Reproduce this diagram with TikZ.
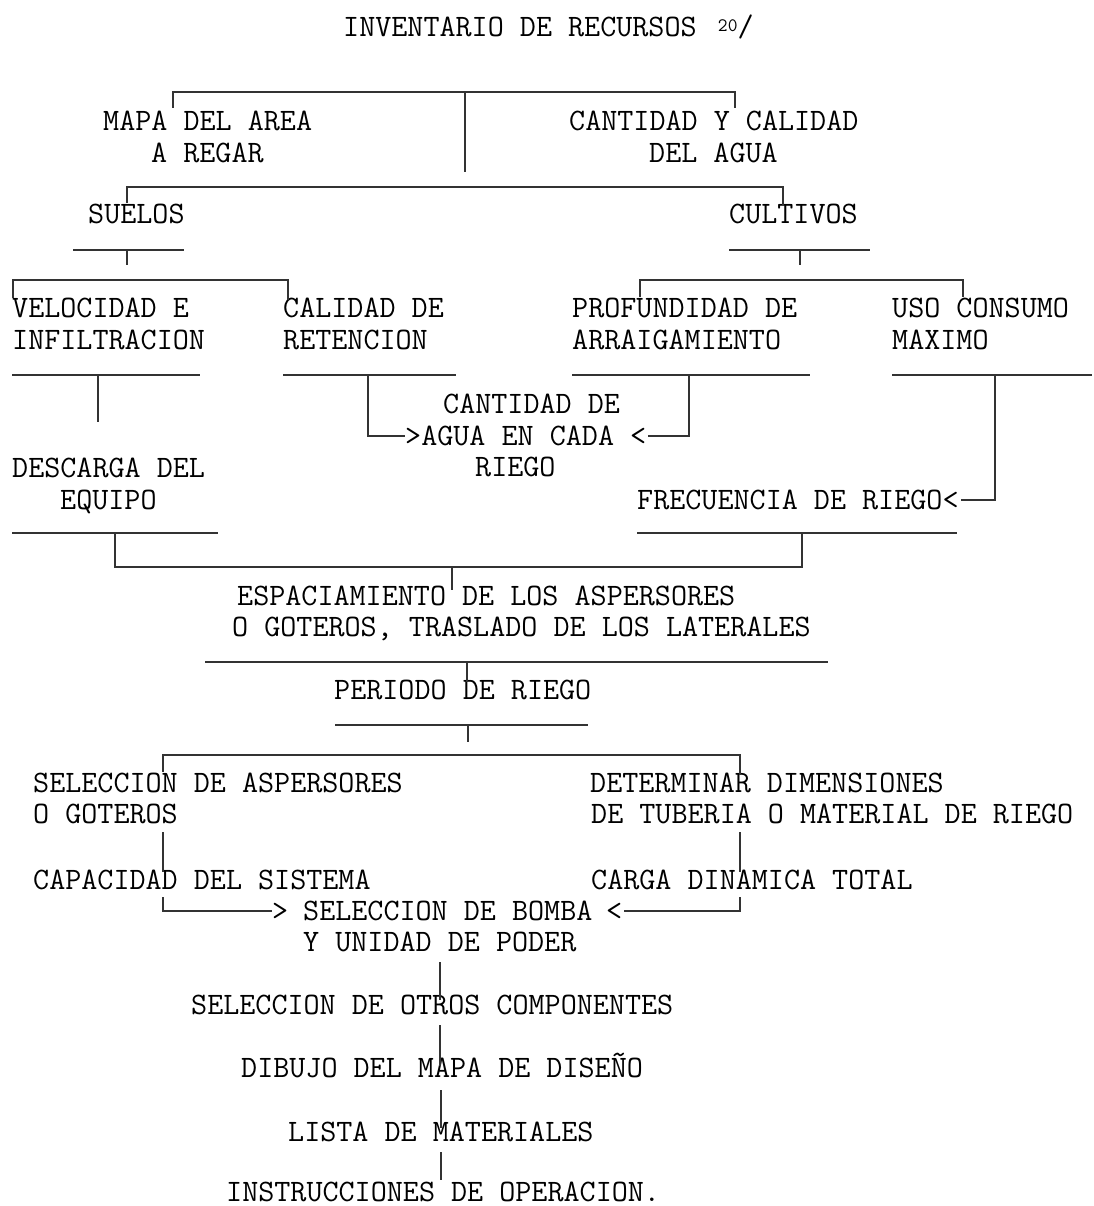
\documentclass[tikz,border=0pt]{standalone}
\usepackage{fontspec}
\newcommand\twf{\ttfamily\fontsize{31.2pt}{31.2pt}\selectfont}
\begin{document}
\begin{tikzpicture}[x=1pt,y=-1pt,
  t/.style={anchor=west, inner sep=0pt, font=\twf, text=black, text height=18pt, text depth=0pt},
  ln/.style={draw=black!80, line width=1.1pt}]
\useasboundingbox[fill=white] (0,0) rectangle (1093,1206);
% ---------- texts ----------
\node[t] (title) at (343,28) {INVENTARIO DE RECURSOS \,\raisebox{5pt}{\fontsize{19pt}{19pt}\selectfont 20}/};
\node[t] (mapa1) at (103,122) {MAPA DEL AREA};
\node[t] (mapa2) at (151,154) {A REGAR};
\node[t] (cant1) at (569,122) {CANTIDAD Y CALIDAD};
\node[t] (cant2) at (649,154) {DEL AGUA};
\node[t] (suelos) at (88,215) {SUELOS};
\node[t] (cult) at (729,215) {CULTIVOS};
\node[t] (vel1) at (12,308) {VELOCIDAD E};
\node[t] (vel2) at (12,340) {INFILTRACION};
\node[t] (cal1) at (283,308) {CALIDAD DE};
\node[t] (cal2) at (283,340) {RETENCION};
\node[t] (prof1) at (572,308) {PROFUNDIDAD DE};
\node[t] (prof2) at (572,340) {ARRAIGAMIENTO};
\node[t] (uso1) at (892,308) {USO CONSUMO};
\node[t] (uso2) at (892,340) {MAXIMO};
\node[t] (cad1) at (443,404) {CANTIDAD DE};
\node[t] (cad2) at (405,436) {>AGUA EN CADA <};
\node[t] (cad3) at (475,467) {RIEGO};
\node[t] (desc1) at (12,468) {DESCARGA DEL};
\node[t] (desc2) at (60,500) {EQUIPO};
\node[t] (frec) at (637,500) {FRECUENCIA DE RIEGO<};
\node[t] (esp1) at (237,596) {ESPACIAMIENTO DE LOS ASPERSORES};
\node[t] (esp2) at (232,627) {O GOTEROS, TRASLADO DE LOS LATERALES};
\node[t] (per) at (334,690) {PERIODO DE RIEGO};
\node[t] (sel1) at (33,783) {SELECCION DE ASPERSORES};
\node[t] (sel2) at (33,814) {O GOTEROS};
\node[t] (det1) at (590,783) {DETERMINAR DIMENSIONES};
\node[t] (det2) at (591,814) {DE TUBERIA O MATERIAL DE RIEGO};
\node[t] (capa) at (33,880) {CAPACIDAD DEL SISTEMA};
\node[t] (carga) at (591,880) {CARGA DINAMICA TOTAL};
\node[t] (gtr) at (272,911) {>};
\node[t] (bomba1) at (303,911) {SELECCION DE BOMBA};
\node[t] (lss) at (606,911) {<};
\node[t] (bomba2) at (303,942) {Y UNIDAD DE PODER};
\node[t] (otros) at (191,1005) {SELECCION DE OTROS COMPONENTES};
\node[t] (dib) at (241,1068) {DIBUJO DEL MAPA DE DISEÑO};
\node[t] (lista) at (288,1132) {LISTA DE MATERIALES};
\node[t] (instr) at (226,1192) {INSTRUCCIONES DE OPERACION.};
% ---------- top bracket ----------
\draw[ln] (173,108) -- (173,92) -- (735,92) -- (735,108);
\draw[ln] (465,92) -- (465,172);
% ---------- second bracket ----------
\draw[ln] (127,203) -- (127,187) -- (783,187) -- (783,205);
% ---------- suelos ----------
\draw[ln] (73,250) -- (184,250);
\draw[ln] (127,250) -- (127,265);
\draw[ln] (13,298) -- (13,280) -- (288,280) -- (288,300);
% ---------- cultivos ----------
\draw[ln] (729,250) -- (870,250);
\draw[ln] (800,250) -- (800,265);
\draw[ln] (640,297) -- (640,280) -- (963,280) -- (963,297);
% ---------- underlines row 3 ----------
\draw[ln] (12,375) -- (200,375);
\draw[ln] (98,375) -- (98,422);
\draw[ln] (283,375) -- (456,375);
\draw[ln] (368,375) -- (368,436) -- (cad2.west);
\draw[ln] (572,375) -- (810,375);
\draw[ln] (689,375) -- (689,436) -- ([xshift=2pt]cad2.east);
\draw[ln] (892,375) -- (1092,375);
\draw[ln] (995,375) -- (995,500) -- ([xshift=2pt]frec.east);
% ---------- descarga / frecuencia ----------
\draw[ln] (12,533) -- (218,533);
\draw[ln] (637,533) -- (957,533);
\draw[ln] (115,533) -- (115,567) -- (802,567) -- (802,533);
\draw[ln] (452,567) -- (452,590);
% ---------- espaciamiento ----------
\draw[ln] (205,662) -- (828,662);
\draw[ln] (467,662) -- (467,682);
% ---------- periodo ----------
\draw[ln] (335,725) -- (588,725);
\draw[ln] (468,725) -- (468,742);
\draw[ln] (163,772) -- (163,755) -- (740,755) -- (740,775);
% ---------- selection ----------
\draw[ln] (163,832) -- (163,872);
\draw[ln] (740,832) -- (740,872);
\draw[ln] (163,897) -- (163,911) -- (gtr.west);
\draw[ln] (740,897) -- (740,911) -- ([xshift=2pt]lss.east);
% ---------- chain ----------
\draw[ln] (440,962) -- (440,1000);
\draw[ln] (440,1025) -- (440,1066);
\draw[ln] (441,1090) -- (441,1128);
\draw[ln] (441,1152) -- (441,1180);
\end{tikzpicture}
\end{document}
